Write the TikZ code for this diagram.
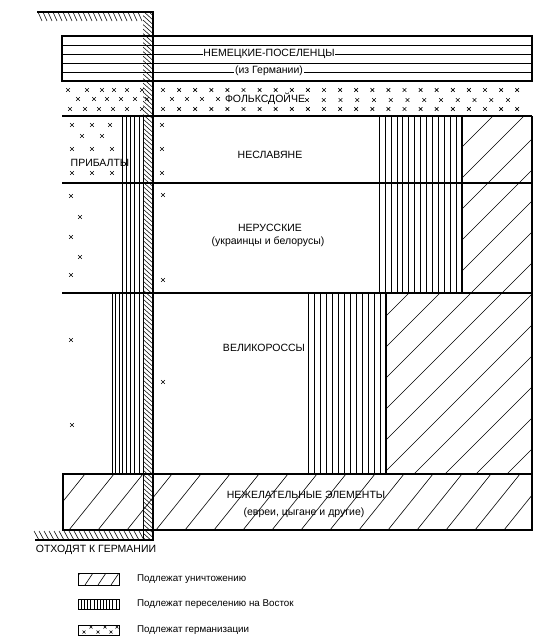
\documentclass[tikz,border=0pt]{standalone}
\usepackage{fontspec}
\setmainfont{Liberation Sans}
\begin{document}
\begin{tikzpicture}[x=1pt,y=-1pt,
  frame/.style={line width=1.2pt},
  sep/.style={line width=1.1pt},
  stripe/.style={line width=0.5pt},
  hatch/.style={line width=0.6pt},
  wall/.style={line width=1.4pt},
  tick/.style={line width=0.55pt},
  lbl/.style={font=\fontsize{10.5}{12}\selectfont, inner sep=0.6pt},
  lgd/.style={font=\fontsize{9.8}{11}\selectfont, anchor=west, inner sep=0pt},
  xm/.pic={\draw[line width=0.65pt] (-1.8,-1.8) -- (1.8,1.8) (-1.8,1.8) -- (1.8,-1.8);},
  xs/.pic={\draw[line width=0.55pt] (-1.5,-1.5) -- (1.5,1.5) (-1.5,1.5) -- (1.5,-1.5);},
]
\useasboundingbox (0,0) rectangle (556,642);

% ---- vertical stripes (resettlement)
\foreach \x in {122,126.2,130.4,134.6,138.8} \draw[stripe] (\x,116) -- (\x,474);
\foreach \x in {112,115.5,119} \draw[stripe] (\x,293) -- (\x,474);
\foreach \i in {0,...,13} \draw[stripe] ({379+\i*5.93},116) -- ({379+\i*5.93},293);
\foreach \i in {0,...,12} \draw[stripe] ({308+\i*6},293) -- ({308+\i*6},474);

% ---- diagonal hatch (destruction), upper right and Great Russians
\begin{scope}
  \clip (462,116) -- (532,116) -- (532,474) -- (386,474) -- (386,293) -- (462,293) -- cycle;
  \foreach \k in {-3,...,11} \draw[hatch] ({71+31*\k},600) -- ({671+31*\k},0);
\end{scope}
% ---- diagonal hatch, undesirable elements
\begin{scope}
  \clip (63,474) rectangle (532,530);
  \foreach \k in {0,...,17} \draw[hatch] ({40+29*\k},530) -- ({85+29*\k},474);
\end{scope}

% ---- wall hatching (goes to Germany)
\begin{scope}
  \clip (143,12) rectangle (153,540);
  \foreach \y in {2,6.5,...,540} \draw[tick] (143,\y) -- (153,\y+9);
\end{scope}
\foreach \x in {38,43,...,140} \draw[tick] (\x,12) -- (\x+4,21);
\foreach \x in {34,39,...,140} \draw[tick] (\x,531) -- (\x+5,540);
\draw[line width=0.6pt] (143,116) -- (143,540);

% ---- frames and separators
\draw[frame] (62,36) rectangle (532,81);
\foreach \y in {45,54,63,72} \draw[line width=0.7pt] (62,\y) -- (532,\y);
\draw[sep] (62,116) -- (532,116);
\draw[sep] (62,183) -- (532,183);
\draw[sep] (62,293) -- (532,293);
\draw[frame] (532,116) -- (532,474);
\draw[frame] (462,116) -- (462,293);
\draw[frame] (386,293) -- (386,474);
\draw[frame] (63,474) rectangle (532,530);
\draw[wall] (37,12) -- (153,12) -- (153,540) -- (35,540);

% ---- crosses (germanisation)
\foreach \x in {68,87,102,114,127,142} \pic at (\x,90) {xm};
\foreach \x in {78,94,107,121,135,147} \pic at (\x,99) {xm};
\foreach \x in {70,85,99,113,127,142} \pic at (\x,109) {xm};
\foreach \k in {0,...,22} \pic at ({163+16.1*\k},90) {xm};
\foreach \k in {0,...,22} \pic at ({163+16.1*\k},109) {xm};
\foreach \x in {172,187,202,218} \pic at (\x,99) {xm};
\foreach \k in {0,...,12} \pic at ({307+16.75*\k},100) {xm};
\foreach \p in {(72,125),(92,125),(110,125),(82,136),(102,136),(72,149),(92,149),(112,149),(72,173),(92,173),(112,173),(162,125),(162,149),(162,173),
  (71,196),(80,217),(71,237),(80,257),(71,275),(163,195),(163,280),(71,340),(72,425),(163,382)}
  \pic at \p {xm};

% ---- labels
\node[lbl, fill=white] (nem) at (269,54) {НЕМЕЦКИЕ-ПОСЕЛЕНЦЫ};
\node[lbl, fill=white] (nemsub) at (269,71) {(из Германии)};
\node[lbl] (volk) at (265,99) {ФОЛЬКСДОЙЧЕ};
\node[lbl] (neslav) at (270,155) {НЕСЛАВЯНЕ};
\node[lbl] (pribalt) at (100,163) {ПРИБАЛТЫ};
\node[lbl] (nerus) at (270,228) {НЕРУССКИЕ};
\node[lbl] (nerussub) at (268,242) {(украинцы и белорусы)};
\node[lbl] (velik) at (264,348) {ВЕЛИКОРОССЫ};
\node[lbl] (nezh) at (306,495) {НЕЖЕЛАТЕЛЬНЫЕ ЭЛЕМЕНТЫ};
\node[lbl] (nezhsub) at (304,513) {(евреи, цыгане и другие)};
\node[lbl] (otkh) at (96,550) {ОТХОДЯТ К ГЕРМАНИИ};

% ---- legend
\begin{scope}
  \clip (78,573) rectangle (119,585);
  \foreach \x in {72,85,98,111,124} \draw[line width=0.6pt] (\x,585) -- (\x+8,573);
\end{scope}
\draw[line width=0.8pt] (78,573) rectangle (119,585);
\foreach \i in {0,...,13} \draw[line width=0.5pt] ({78+\i*3.15},599) -- ({78+\i*3.15},609);
\draw[line width=0.8pt] (78,599) rectangle (119,609);
\draw[line width=0.8pt] (78,625) rectangle (119,635);
\foreach \p in {(84,632),(98,632),(111,632),(91,627),(105,627),(117,627)} \pic at \p {xs};
\node[lgd] (l1) at (137,579) {Подлежат уничтожению};
\node[lgd] (l2) at (137,604) {Подлежат переселению на Восток};
\node[lgd] (l3) at (137,630) {Подлежат германизации};
\end{tikzpicture}
\end{document}
